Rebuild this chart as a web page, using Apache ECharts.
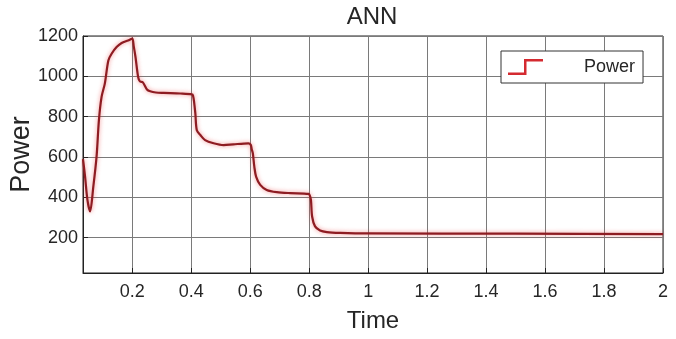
<!DOCTYPE html>
<html>
<head>
<meta charset="utf-8">
<script src="https://cdn.jsdelivr.net/npm/echarts@6/dist/echarts.min.js"></script>
<style>
  html, body { margin: 0; padding: 0; background: #fff; }
  #chart { width: 676px; height: 339px; }
</style>
</head>
<body>
<div id="chart"></div>
<script>
// values
const time = [0.033, 0.04, 0.048, 0.057, 0.068, 0.079, 0.087, 0.096, 0.107, 0.119, 0.13, 0.147, 0.164, 0.186, 0.2,
  0.205, 0.211, 0.22, 0.226, 0.236, 0.25, 0.261, 0.28, 0.306, 0.363, 0.402,
  0.406, 0.41, 0.414, 0.419, 0.431, 0.447, 0.476, 0.51, 0.543, 0.594,
  0.602, 0.605, 0.609, 0.614, 0.62, 0.634, 0.656, 0.69, 0.736, 0.798,
  0.802, 0.806, 0.81, 0.82, 0.837, 0.86, 0.905, 1.0, 1.5, 2.0];
const power = [590, 503, 388, 330, 453, 602, 783, 898, 964, 1079, 1112, 1145, 1165, 1178, 1187,
  1150, 1096, 997, 975, 970, 935, 926, 920, 918, 915, 911,
  905, 870, 816, 733, 709, 684, 668, 659, 663, 668,
  660, 640, 618, 552, 503, 462, 437, 426, 421, 417,
  410, 388, 305, 256, 236, 228, 224, 221, 220, 218];
const xTicks = [0.2, 0.4, 0.6, 0.8, 1, 1.2, 1.4, 1.6, 1.8, 2];
const yTicks = [200, 400, 600, 800, 1000, 1200];

const FONT = "'Liberation Sans', Arial, sans-serif";
const TEXT = "#262626";
const GRID = "#7a7a7a";

const chart = echarts.init(document.getElementById("chart"), null, { renderer: "canvas" });

chart.setOption({
  animation: false,
  backgroundColor: "#fff",
  title: {
    text: "ANN",
    left: 367,
    top: 0,
    textAlign: "center",
    textStyle: { fontFamily: FONT, fontSize: 24, fontWeight: "normal", color: TEXT },
  },
  // legend box with a step-shaped icon
  legend: {
    data: ["Power"],
    left: 501,
    top: 51,
    padding: [7, 8, 7, 7],
    borderColor: "#333",
    borderWidth: 1,
    backgroundColor: "#fff",
    itemWidth: 35,
    itemHeight: 16,
    icon: "path://M0,13.5 L16,13.5 L16,0 L35,0 L35,2.5 L18.5,2.5 L18.5,16 L0,16 Z",
    textStyle: { fontFamily: FONT, fontSize: 18, color: TEXT, padding: [0, 0, 0, 36] },
  },
  // fixed plot box, don't let labels push it around
  grid: {
    show: true,
    left: 83,
    right: 13,
    top: 36,
    bottom: 66,
    outerBoundsMode: "none",
    containLabel: false,
    borderColor: "#222",
    borderWidth: 1,
  },
  xAxis: {
    type: "value",
    min: 0.033,
    max: 2,
    name: "Time",
    nameLocation: "middle",
    nameGap: 36,
    nameMoveOverlap: false,
    nameTextStyle: { fontFamily: FONT, fontSize: 24, color: TEXT },
    axisLine: { show: true, lineStyle: { color: "#222" } },
    axisTick: { show: true, inside: true, length: 5, customValues: xTicks, lineStyle: { color: "#222" } },
    axisLabel: { customValues: xTicks, margin: 10, fontFamily: FONT, fontSize: 18, color: TEXT, formatter: (v) => String(v) },
    splitLine: { show: true, lineStyle: { color: GRID, width: 1 } },
  },
  yAxis: {
    type: "value",
    min: 25,
    max: 1200,
    name: "Power",
    nameLocation: "middle",
    nameGap: 48,
    nameMoveOverlap: false,
    nameTextStyle: { fontFamily: FONT, fontSize: 27, color: TEXT },
    axisLine: { show: true, lineStyle: { color: "#222" } },
    axisTick: { show: true, inside: true, length: 5, customValues: yTicks, lineStyle: { color: "#222" } },
    axisLabel: { customValues: yTicks, margin: 5, fontFamily: FONT, fontSize: 18, color: TEXT, formatter: (v) => String(v) },
    splitLine: { show: true, lineStyle: { color: GRID, width: 1 } },
  },
  series: [
    {
      name: "Power",
      type: "line",
      data: time.map((t, i) => [t, power[i]]),
      showSymbol: false,
      smooth: 0.3,
      itemStyle: { color: "#d42a30" },
      lineStyle: {
        color: "#8e1c22",
        width: 2.2,
        shadowColor: "rgba(235, 60, 60, 0.6)",
        shadowBlur: 4,
      },
    },
  ],
});
</script>
</body>
</html>
